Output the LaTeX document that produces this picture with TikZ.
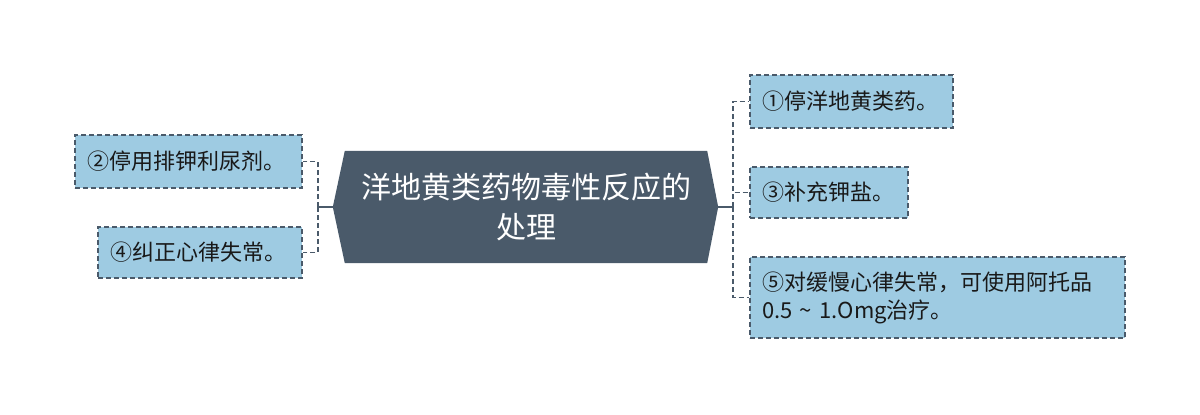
\documentclass[tikz,border=0pt]{standalone}
\usepackage{fontspec}
\setmainfont{Noto Sans CJK SC}
\usetikzlibrary{backgrounds}
\definecolor{slate}{HTML}{4A5A6A}
\definecolor{leafblue}{HTML}{9ECBE2}

\begin{document}
\begin{tikzpicture}[x=1pt, y=-1pt,
  leaf/.style={draw=slate, dash pattern=on 5pt off 3pt, line width=1.2pt,
    fill=leafblue, inner xsep=12pt, inner ysep=0pt, align=left,
    font=\fontsize{22}{28}\selectfont, text=black!90},
  link/.style={draw=slate, line width=1.5pt, dash pattern=on 5pt off 3pt},
  stem/.style={draw=slate, line width=1.5pt}]

  \useasboundingbox (0,0) rectangle (1200,415);

  % topic
  \node[minimum width=362pt, minimum height=112pt, inner sep=0pt, align=center,
    text=white, font=\fontsize{30}{40}\selectfont] (root) at (526,207)
    {洋地黄类药物毒性反应的\\处理};
  \begin{pgfonlayer}{background}
    \fill[slate] (root.north west) -- (root.north east) -- ([xshift=11pt]root.east)
      -- (root.south east) -- (root.south west) -- ([xshift=-12pt]root.west) -- cycle;
  \end{pgfonlayer}

  % left branch
  \node[leaf, text width=203pt, minimum height=53pt] (stop) at (188.5,161.5) {②停用排钾利尿剂。};
  \node[leaf, text width=180pt, minimum height=51pt] (fix) at (200,252.5) {④纠正心律失常。};

  % right branch
  \node[leaf, text width=179pt, minimum height=53pt] (halt) at (851.5,101.5) {①停洋地黄类药。};
  \node[leaf, text width=134pt, minimum height=51pt] (kalium) at (829,192.5) {③补充钾盐。};
  \node[leaf, text width=351pt, minimum height=81pt] (atropine) at (937.5,297.5)
    {⑤对缓慢心律失常，可使用阿托品\\0.5 \textasciitilde{} 1.Omg治疗。};

  \coordinate (tipL) at ([xshift=-12pt]root.west);
  \coordinate (hubL) at ([xshift=-15pt]tipL);
  \coordinate (tipR) at ([xshift=11pt]root.east);
  \coordinate (hubR) at ([xshift=15pt]tipR);

  \draw[stem] (tipL) -- (hubL);
  \draw[stem] ([yshift=5pt]hubL) -- ([yshift=-5pt]hubL);
  \draw[stem] (tipR) -- (hubR);
  \draw[stem] ([yshift=5pt]hubR) -- ([yshift=-5pt]hubR);

  \draw[link] (hubL) |- (stop.east);
  \draw[link] (hubL) |- (fix.east);
  \draw[link] (hubR) |- (halt.west);
  \draw[link] (hubR) |- (kalium.west);
  \draw[link] (hubR) |- (atropine.west);

\end{tikzpicture}
\end{document}
